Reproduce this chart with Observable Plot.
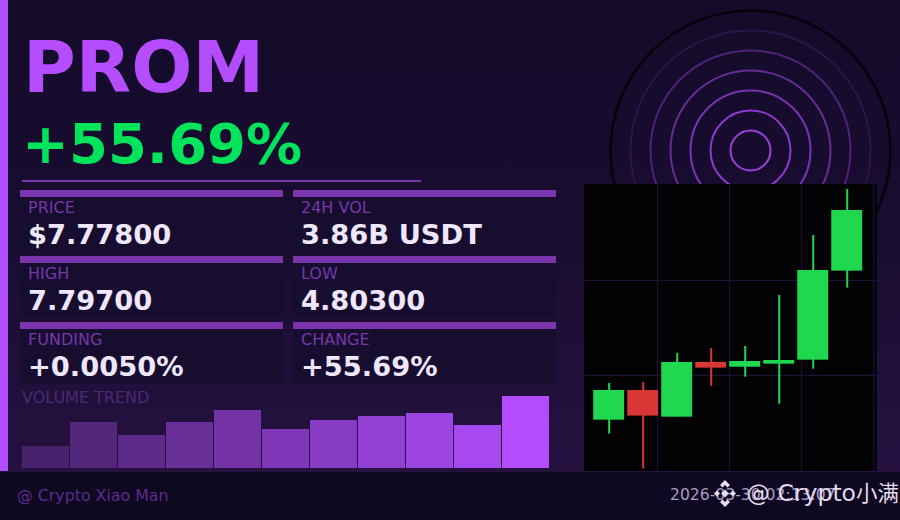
<!DOCTYPE html>
<html><head><meta charset="utf-8">
<script src="https://cdn.jsdelivr.net/npm/d3@7"></script>
<script src="https://cdn.jsdelivr.net/npm/@observablehq/plot@0.6"></script>
<style>
html,body{margin:0;padding:0;background:#0e0820;}
#root{position:relative;width:900px;height:520px;overflow:hidden;font-family:"DejaVu Sans",sans-serif;
 background:linear-gradient(180deg,#140b2a 0%,#190d31 45%,#22103d 80%,#26113f 92%);}
.abs{position:absolute;line-height:1;white-space:nowrap;}
.card{position:absolute;width:263px;}
.cbar{height:7px;background:#7a35ad;}
.cbody{height:54px;background:#170d2e;}
.lbl{position:absolute;left:8px;top:10px;font-size:16px;line-height:1;color:#7538ab;}
.val{position:absolute;left:8px;top:30.5px;font-size:27.3px;line-height:1;font-weight:bold;color:#efe6ff;}
</style></head>
<body>
<div id="root">
  <div id="rings" class="abs" style="left:600px;top:0px;"></div>
  <div class="abs" style="left:0;top:0;width:8px;height:471px;background:#b04dff;"></div>
  <div id="sym" class="abs" style="left:23px;top:31px;font-size:72px;font-weight:bold;color:#b54dff;"></div>
  <div id="chg" class="abs" style="left:22px;top:116px;font-size:56px;font-weight:bold;color:#00e35a;"></div>
  <div class="abs" style="left:22px;top:180px;width:399px;height:2px;background:#7b35b0;"></div>
  <div id="cards"></div>
  <div id="vtitle" class="abs" style="left:22px;top:390px;font-size:16px;color:#4b2a72;"></div>
  <div id="vol" class="abs" style="left:22px;top:387.5px;"></div>
  <div id="candle" class="abs" style="left:584px;top:184px;"></div>
  <div class="abs" style="left:0;top:471.5px;width:900px;height:49px;background:#0e0820;"></div>
  <div id="credit" class="abs" style="left:17px;top:487.5px;font-size:15.8px;color:#5a2c8c;"></div>
  <div id="stamp" class="abs" style="left:670px;top:487.5px;font-size:15.6px;color:#a99dc2;"></div>
  <svg class="abs" style="left:714px;top:480px;" width="22" height="27" viewBox="0 0 22 27">
    <g fill="#e6def0">
      <polygon points="11,0 16,5 13.5,7.5 11,5 8.5,7.5 6,5"/>
      <polygon points="11,27 16,22 13.5,19.5 11,22 8.5,19.5 6,22"/>
      <polygon points="0,13.5 3,10.5 6,13.5 3,16.5"/>
      <polygon points="22,13.5 19,10.5 16,13.5 19,16.5"/>
      <polygon points="11,9.5 15,13.5 11,17.5 7,13.5"/>
    </g>
  </svg>
  <div class="abs" style="right:1px;top:480px;line-height:24px;color:#e2daee;font-family:'DejaVu Sans','Noto Sans CJK SC',sans-serif;">
    <span id="wmLatin" style="font-size:23.5px;"></span><span id="wmCjk" style="font-size:21.5px;font-family:'Noto Sans CJK SC',sans-serif;"></span>
  </div>
</div>
<script>
// ---------- data ----------
const symbol = "PROM";
const changeText = "+55.69%";
const cardLabels = ["PRICE", "24H VOL", "HIGH", "LOW", "FUNDING", "CHANGE"];
const cardValues = ["$7.77800", "3.86B USDT", "7.79700", "4.80300", "+0.0050%", "+55.69%"];
const volumeTitle = "VOLUME TREND";
const volumes = [22, 46, 33, 46, 58, 39, 48, 52, 55, 43, 72];
const candleOpen  = [5.529, 5.842, 5.561, 6.137, 6.087, 6.119, 6.161, 7.098];
const candleClose = [5.842, 5.572, 6.137, 6.077, 6.147, 6.158, 7.105, 7.737];
const candleHigh  = [5.916, 5.926, 6.232, 6.284, 6.305, 6.842, 7.474, 7.958];
const candleLow   = [5.382, 5.014, 5.561, 5.887, 5.982, 5.698, 6.066, 6.919];
const candleGridX = [1.42, 3.54, 5.66, 7.78];
const candleGridY = [6, 7];
const ringRadii = [20, 40, 60, 80, 100, 120];
const outerRing = [140];
const creditText = "@ Crypto Xiao Man";
const stampText = "2026-03-30 02:13:07";
const watermarkLatin = "@ Crypto";
const watermarkCjk = "小满";

// ---------- styles ----------
const ringColors = ["#9b40d8", "#8d3acb", "#7a34b0", "#652d94", "#4c2376", "#2c1549"];
const upColor = "#1fd84f", downColor = "#d93636";

// ---------- text ----------
document.getElementById("sym").textContent = symbol;
document.getElementById("chg").textContent = changeText;
document.getElementById("vtitle").textContent = volumeTitle;
document.getElementById("credit").textContent = creditText;
document.getElementById("stamp").textContent = stampText;
document.getElementById("wmLatin").textContent = watermarkLatin;
document.getElementById("wmCjk").textContent = watermarkCjk;

const colLeft = [20, 293], rowTop = [190, 256, 322];
const cardsEl = document.getElementById("cards");
cardLabels.forEach((lab, i) => {
  const c = document.createElement("div");
  c.className = "card";
  c.style.left = colLeft[i % 2] + "px";
  c.style.top = rowTop[Math.floor(i / 2)] + "px";
  c.innerHTML = `<div class="cbar"></div><div class="cbody"></div><div class="lbl"></div><div class="val"></div>`;
  c.querySelector(".lbl").textContent = lab;
  c.querySelector(".val").textContent = cardValues[i];
  cardsEl.appendChild(c);
});

// ---------- rings ----------
document.getElementById("rings").appendChild(Plot.plot({
  width: 300, height: 300, margin: 0,
  r: {type: "identity"}, color: {type: "identity"},
  style: {background: "transparent", overflow: "visible"},
  marks: [
    Plot.dot(ringRadii, {frameAnchor: "middle", r: d => d, stroke: (d, i) => ringColors[i], strokeWidth: 2, fill: "none"}),
    Plot.dot(outerRing, {frameAnchor: "middle", r: d => d, stroke: "#050208", strokeWidth: 2.5, fill: "none"})
  ]
}));

// ---------- volume bars ----------
document.getElementById("vol").appendChild(Plot.plot({
  width: 527, height: 80, margin: 0,
  x: {type: "band", domain: d3.range(volumes.length), paddingInner: 0.022, paddingOuter: 0, axis: null},
  y: {domain: [0, 80], axis: null},
  color: {type: "linear", domain: [0, volumes.length - 1], range: ["#48226c", "#b34cff"]},
  style: {background: "transparent"},
  marks: [Plot.barY(volumes, {x: (d, i) => i, y: d => d, fill: (d, i) => i})]
}));

// ---------- candles ----------
const candles = candleOpen.map((o, i) => ({
  i, open: o, close: candleClose[i], high: candleHigh[i], low: candleLow[i],
  color: candleClose[i] >= o ? upColor : downColor
}));
document.getElementById("candle").appendChild(Plot.plot({
  width: 293, height: 287, margin: 0,
  x: {domain: [-0.726, 7.89], axis: null},
  y: {domain: [4.989, 8.0105], axis: null},
  color: {type: "identity"},
  style: {background: "#020104"},
  marks: [
    Plot.ruleX(candleGridX, {stroke: "#1c1234", strokeWidth: 1.2}),
    Plot.ruleY(candleGridY, {stroke: "#1c1234", strokeWidth: 1.2}),
    Plot.ruleX(candles, {x: "i", y1: "low", y2: "high", stroke: "color", strokeWidth: 2}),
    Plot.rectY(candles, {x1: d => d.i - 0.455, x2: d => d.i + 0.455, y1: "open", y2: "close", fill: "color"})
  ]
}));
</script>
</body></html>
